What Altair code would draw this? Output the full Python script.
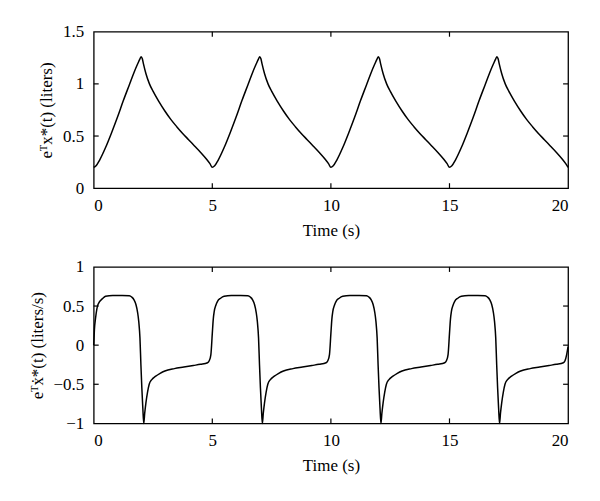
import altair as alt
import pandas as pd

# ---------------- data ----------------
x_ticks = [0, 5, 10, 15, 20]
top_y_ticks = [0, 0.5, 1, 1.5]
bot_y_ticks = [-1, -0.5, 0, 0.5, 1]

top_time = [
    0, 0.1, 0.25, 0.5, 0.75, 1.0, 1.25, 1.5, 1.7, 1.85, 1.95, 2.0, 2.05, 2.1, 2.2, 2.35, 2.5, 2.75, 3.0, 3.25, 3.5, 3.75, 4.0, 4.25, 4.5, 4.75, 4.9,
    5, 5.1, 5.25, 5.5, 5.75, 6.0, 6.25, 6.5, 6.7, 6.85, 6.95, 7.0, 7.05, 7.1, 7.2, 7.35, 7.5, 7.75, 8.0, 8.25, 8.5, 8.75, 9.0, 9.25, 9.5, 9.75, 9.9,
    10, 10.1, 10.25, 10.5, 10.75, 11.0, 11.25, 11.5, 11.7, 11.85, 11.95, 12.0, 12.05, 12.1, 12.2, 12.35, 12.5, 12.75, 13.0, 13.25, 13.5, 13.75, 14.0, 14.25, 14.5, 14.75, 14.9,
    15, 15.1, 15.25, 15.5, 15.75, 16.0, 16.25, 16.5, 16.7, 16.85, 16.95, 17.0, 17.05, 17.1, 17.2, 17.35, 17.5, 17.75, 18.0, 18.25, 18.5, 18.75, 19.0, 19.25, 19.5, 19.75, 19.9,
    20,
]
top_volume = [
    0.20, 0.215, 0.27, 0.39, 0.53, 0.68, 0.84, 0.99, 1.11, 1.19, 1.24, 1.26, 1.24, 1.19, 1.10, 1.00, 0.93, 0.83, 0.74, 0.66, 0.59, 0.525, 0.465, 0.405, 0.345, 0.28, 0.235,
    0.20, 0.215, 0.27, 0.39, 0.53, 0.68, 0.84, 0.99, 1.11, 1.19, 1.24, 1.26, 1.24, 1.19, 1.10, 1.00, 0.93, 0.83, 0.74, 0.66, 0.59, 0.525, 0.465, 0.405, 0.345, 0.28, 0.235,
    0.20, 0.215, 0.27, 0.39, 0.53, 0.68, 0.84, 0.99, 1.11, 1.19, 1.24, 1.26, 1.24, 1.19, 1.10, 1.00, 0.93, 0.83, 0.74, 0.66, 0.59, 0.525, 0.465, 0.405, 0.345, 0.28, 0.235,
    0.20, 0.215, 0.27, 0.39, 0.53, 0.68, 0.84, 0.99, 1.11, 1.19, 1.24, 1.26, 1.24, 1.19, 1.10, 1.00, 0.93, 0.83, 0.74, 0.66, 0.59, 0.525, 0.465, 0.405, 0.345, 0.28, 0.235,
    0.20,
]

bot_time = [
    0, 0.03, 0.08, 0.18, 0.39, 0.5, 0.8, 1.2, 1.5, 1.6, 1.7, 1.78, 1.85, 1.9, 1.95, 1.99, 2.03, 2.07, 2.11, 2.15, 2.2, 2.27, 2.34, 2.45, 2.6, 2.8, 3.0, 3.4, 3.8, 4.2, 4.5, 4.8, 4.87, 4.94,
    5, 5.04, 5.08, 5.15, 5.22, 5.35, 5.5, 5.8, 6.2, 6.5, 6.6, 6.7, 6.78, 6.85, 6.9, 6.95, 6.99, 7.03, 7.07, 7.11, 7.15, 7.2, 7.27, 7.34, 7.45, 7.6, 7.8, 8.0, 8.4, 8.8, 9.2, 9.5, 9.8, 9.87, 9.94,
    10, 10.04, 10.08, 10.15, 10.22, 10.35, 10.5, 10.8, 11.2, 11.5, 11.6, 11.7, 11.78, 11.85, 11.9, 11.95, 11.99, 12.03, 12.07, 12.11, 12.15, 12.2, 12.27, 12.34, 12.45, 12.6, 12.8, 13.0, 13.4, 13.8, 14.2, 14.5, 14.8, 14.87, 14.94,
    15, 15.04, 15.08, 15.15, 15.22, 15.35, 15.5, 15.8, 16.2, 16.5, 16.6, 16.7, 16.78, 16.85, 16.9, 16.95, 16.99, 17.03, 17.07, 17.11, 17.15, 17.2, 17.27, 17.34, 17.45, 17.6, 17.8, 18.0, 18.4, 18.8, 19.2, 19.5, 19.8, 19.87, 19.94,
    20,
]
bot_flow = [
    0.0, 0.2, 0.35, 0.52, 0.6, 0.625, 0.635, 0.635, 0.63, 0.615, 0.58, 0.52, 0.42, 0.3, 0.09, -0.25, -0.55, -0.8, -1.0, -0.87, -0.74, -0.6, -0.5, -0.44, -0.4, -0.36, -0.33, -0.3, -0.28, -0.26, -0.245, -0.225, -0.2, -0.12,
    0.15, 0.33, 0.43, 0.51, 0.56, 0.6, 0.625, 0.635, 0.635, 0.63, 0.615, 0.58, 0.52, 0.42, 0.3, 0.09, -0.25, -0.55, -0.8, -1.0, -0.87, -0.74, -0.6, -0.5, -0.44, -0.4, -0.36, -0.33, -0.3, -0.28, -0.26, -0.245, -0.225, -0.2, -0.12,
    0.15, 0.33, 0.43, 0.51, 0.56, 0.6, 0.625, 0.635, 0.635, 0.63, 0.615, 0.58, 0.52, 0.42, 0.3, 0.09, -0.25, -0.55, -0.8, -1.0, -0.87, -0.74, -0.6, -0.5, -0.44, -0.4, -0.36, -0.33, -0.3, -0.28, -0.26, -0.245, -0.225, -0.2, -0.12,
    0.15, 0.33, 0.43, 0.51, 0.56, 0.6, 0.625, 0.635, 0.635, 0.63, 0.615, 0.58, 0.52, 0.42, 0.3, 0.09, -0.25, -0.55, -0.8, -1.0, -0.87, -0.74, -0.6, -0.5, -0.44, -0.4, -0.36, -0.33, -0.3, -0.28, -0.26, -0.245, -0.225, -0.2, -0.12,
    -0.02,
]

top_title = "eᵀx*(t) (liters)"
bot_title = "eᵀẋ*(t) (liters/s)"
x_title = "Time (s)"

# ---------------- styling ----------------
FONT = "Liberation Serif"
FS = 17
W, H = 476, 157
TICK = 5


def panel(t, v, ydom, yticks, ytitle):
    df = pd.DataFrame({"t": t, "v": v})
    xs = alt.Scale(domain=[0, 20], nice=False, zero=False)
    ys = alt.Scale(domain=ydom, nice=False, zero=False)
    xa = alt.Axis(
        values=x_ticks, title=x_title, format="~g", ticks=False,
        domain=False, grid=False, labelPadding=9, titlePadding=9,
        labelFont=FONT, labelFontSize=FS, labelColor="black",
        titleFont=FONT, titleFontSize=FS, titleFontWeight="normal",
        titleColor="black")
    ya = alt.Axis(
        values=yticks, title=ytitle, format="~g", ticks=False,
        domain=False, grid=False, labelPadding=10, titlePadding=7,
        labelFont=FONT, labelFontSize=FS, labelColor="black",
        titleFont=FONT, titleFontSize=FS, titleFontWeight="normal",
        titleColor="black")
    line = alt.Chart(df).mark_line(
        color="black", strokeWidth=1.5, interpolate="monotone"
    ).encode(
        x=alt.X("t:Q", scale=xs, axis=xa),
        y=alt.Y("v:Q", scale=ys, axis=ya),
    )
    xt = pd.DataFrame({"t": x_ticks[1:-1]})
    yt = pd.DataFrame({"v": yticks[1:-1]})
    tick_style = dict(color="black", strokeWidth=1.2)
    bx = alt.Chart(xt).mark_rule(**tick_style).encode(
        x=alt.X("t:Q", scale=xs, axis=xa), y=alt.value(H), y2=alt.value(H - TICK))
    tx = alt.Chart(xt).mark_rule(**tick_style).encode(
        x=alt.X("t:Q", scale=xs, axis=xa), y=alt.value(0), y2=alt.value(TICK))
    ly = alt.Chart(yt).mark_rule(**tick_style).encode(
        y=alt.Y("v:Q", scale=ys, axis=ya), x=alt.value(0), x2=alt.value(TICK))
    ry = alt.Chart(yt).mark_rule(**tick_style).encode(
        y=alt.Y("v:Q", scale=ys, axis=ya), x=alt.value(W), x2=alt.value(W - TICK))
    return alt.layer(line, bx, tx, ly, ry).properties(width=W, height=H)


top = panel(top_time, top_volume, [0, 1.5], top_y_ticks, top_title)
bot = panel(bot_time, bot_flow, [-1, 1], bot_y_ticks, bot_title)

chart = alt.vconcat(top, bot, spacing=18).properties(
    padding={"left": 19, "top": 13, "right": 20, "bottom": 5},
    background="white",
).configure_view(stroke="black", strokeWidth=1.3)

chart.save("out.html", embed_options={"renderer": "svg", "actions": False})
